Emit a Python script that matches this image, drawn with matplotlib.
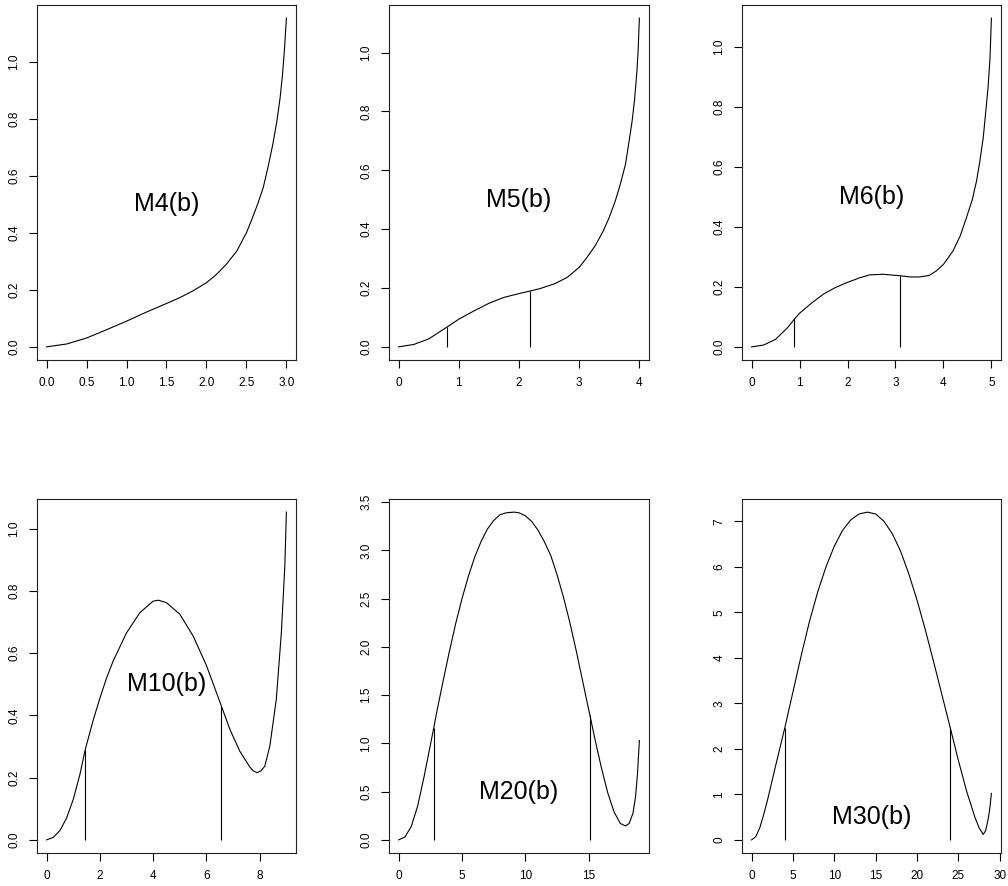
import numpy as np
import matplotlib
matplotlib.use("Agg")
import matplotlib.pyplot as plt

plt.rcParams['font.family'] = ['Liberation Sans', 'DejaVu Sans']

# curves: (x, y) for each panel
x4 = [0, 0.25, 0.5, 0.75, 1.0, 1.25, 1.5, 1.67, 1.83, 2.0, 2.13, 2.25, 2.38, 2.5, 2.56,
      2.64, 2.71, 2.77, 2.83, 2.88, 2.92, 2.95, 2.975, 3.0]
y4 = [0, 0.010, 0.031, 0.060, 0.090, 0.122, 0.152, 0.173, 0.196, 0.225, 0.255, 0.29,
      0.336, 0.40, 0.441, 0.50, 0.558, 0.63, 0.71, 0.79, 0.87, 0.95, 1.04, 1.152]

x5 = [0, 0.25, 0.5, 0.81, 1.0, 1.25, 1.5, 1.75, 2.0, 2.19, 2.35, 2.6, 2.8, 3.0, 3.13,
      3.27, 3.4, 3.5, 3.6, 3.68, 3.77, 3.83, 3.88, 3.92, 3.96, 3.98, 4.0]
y5 = [0, 0.008, 0.027, 0.068, 0.094, 0.122, 0.148, 0.168, 0.181, 0.19, 0.198, 0.215,
      0.236, 0.27, 0.304, 0.345, 0.394, 0.44, 0.496, 0.55, 0.621, 0.70, 0.768, 0.84,
      0.938, 1.01, 1.117]

x6 = [0, 0.25, 0.5, 0.75, 0.89, 1.0, 1.25, 1.5, 1.75, 2.0, 2.25, 2.46, 2.74, 3.1, 3.3,
      3.5, 3.7, 3.85, 4.0, 4.2, 4.35, 4.48, 4.6, 4.69, 4.76, 4.83, 4.88, 4.93, 4.97, 5.0]
y6 = [0, 0.006, 0.025, 0.064, 0.092, 0.112, 0.146, 0.176, 0.198, 0.215, 0.23, 0.24,
      0.242, 0.237, 0.233, 0.233, 0.238, 0.253, 0.275, 0.32, 0.37, 0.431, 0.49, 0.553,
      0.62, 0.698, 0.78, 0.865, 0.96, 1.096]

x10 = [0, 0.25, 0.5, 0.75, 1.0, 1.25, 1.45, 1.75, 2.0, 2.25, 2.5, 3.0, 3.5, 4.0, 4.2,
       4.5, 5.0, 5.5, 6.0, 6.56, 6.88, 7.25, 7.62, 7.75, 7.9, 8.05, 8.19, 8.38, 8.62,
       8.81, 8.94, 9.0]
y10 = [0, 0.008, 0.03, 0.07, 0.13, 0.21, 0.29, 0.385, 0.455, 0.52, 0.575, 0.665, 0.73,
       0.767, 0.77, 0.762, 0.725, 0.655, 0.56, 0.43, 0.355, 0.285, 0.235, 0.222, 0.216,
       0.222, 0.237, 0.302, 0.451, 0.665, 0.879, 1.053]

x20 = [0, 0.5, 1, 1.5, 2, 2.5, 2.77, 3, 3.5, 4, 4.5, 5, 5.5, 6, 6.5, 7, 7.5, 8, 8.5,
       9.1, 9.5, 10, 10.5, 11, 11.5, 12, 12.5, 13, 13.5, 14, 14.5, 15, 15.1, 15.5, 16,
       16.5, 17, 17.5, 17.9, 18.2, 18.5, 18.7, 18.85, 19.0]
y20 = [0, 0.03, 0.14, 0.35, 0.65, 0.98, 1.16, 1.32, 1.64, 1.95, 2.24, 2.5, 2.73, 2.93,
       3.09, 3.22, 3.31, 3.37, 3.39, 3.397, 3.39, 3.36, 3.30, 3.21, 3.09, 2.95, 2.75,
       2.52, 2.26, 1.97, 1.66, 1.35, 1.29, 1.04, 0.75, 0.49, 0.29, 0.17, 0.145, 0.17,
       0.28, 0.45, 0.68, 1.03]

x30 = [0, 0.5, 1, 1.5, 2, 3, 4, 5, 6, 7, 8, 9, 10, 11, 12, 13, 14, 15, 16, 17, 18, 19,
       20, 21, 22, 23, 24, 25, 26, 27, 27.5, 28, 28.3, 28.6, 28.8, 29]
y30 = [0, 0.07, 0.27, 0.58, 0.93, 1.7, 2.45, 3.25, 4.05, 4.8, 5.45, 6.0, 6.45, 6.8,
       7.03, 7.16, 7.2, 7.16, 7.0, 6.73, 6.35, 5.85, 5.27, 4.62, 3.92, 3.2, 2.48, 1.75,
       1.07, 0.5, 0.27, 0.12, 0.2, 0.45, 0.68, 1.02]

# vertical markers (x position, height)
vx5, vh5 = [0.81, 2.19], [0.068, 0.19]
vx6, vh6 = [0.89, 3.1], [0.092, 0.237]
vx10, vh10 = [1.45, 6.56], [0.29, 0.43]
vx20, vh20 = [2.77, 15.1], [1.16, 1.29]
vx30, vh30 = [4.0, 24.0], [2.45, 2.48]

labels = ["M4(b)", "M5(b)", "M6(b)", "M10(b)", "M20(b)", "M30(b)"]

xticks = [np.arange(0, 3.01, 0.5), [0, 1, 2, 3, 4], [0, 1, 2, 3, 4, 5],
          [0, 2, 4, 6, 8], [0, 5, 10, 15], [0, 5, 10, 15, 20, 25, 30]]
yticks = [np.arange(0, 1.01, 0.2)] * 4 + [np.arange(0, 3.51, 0.5), np.arange(0, 7.1, 1)]

curves = [(x4, y4), (x5, y5), (x6, y6), (x10, y10), (x20, y20), (x30, y30)]
marks = [([], []), (vx5, vh5), (vx6, vh6), (vx10, vh10), (vx20, vh20), (vx30, vh30)]

fig = plt.figure(figsize=(10.08, 8.86), dpi=100)
W, H = 1008, 886
lefts = [37, 389, 742]
widths = [259, 260, 259]
tops = [5, 499]
heights = [355, 354]

for i in range(6):
    r, c = divmod(i, 3)
    ax = fig.add_axes([lefts[c] / W, 1 - (tops[r] + heights[r]) / H,
                       widths[c] / W, heights[r] / H])
    xs, ys = curves[i]
    ax.plot(xs, ys, color='black', lw=0.8)
    vx, vh = marks[i]
    if vx:
        ax.vlines(vx, 0, vh, color='black', lw=0.8)
    xmax = xs[-1]
    ax.set_xlim(-0.04 * xmax, 1.04 * xmax)
    ymax = max(ys)
    ax.set_ylim(-0.04 * ymax, 1.04 * ymax)
    ax.text(xmax / 2, 0.5, labels[i], ha='center', va='center', fontsize=18)

    xt = xticks[i]
    ax.set_xticks(xt)
    if i == 0:
        ax.set_xticklabels(["%.1f" % t for t in xt])
    else:
        ax.set_xticklabels(["%d" % t for t in xt])
    yt = yticks[i]
    ax.set_yticks(yt)
    if i == 5:
        ax.set_yticklabels(["%d" % t for t in yt])
    else:
        ax.set_yticklabels(["%.1f" % t for t in yt])
    for lab in ax.get_yticklabels():
        lab.set_rotation(90)
        lab.set_va('center')
    ax.tick_params(axis='both', length=6, width=0.8, labelsize=8.5, pad=6, color='black')
    for s in ax.spines.values():
        s.set_linewidth(0.8)
        s.set_color('#222222')

fig.savefig("out.png", dpi=100)
